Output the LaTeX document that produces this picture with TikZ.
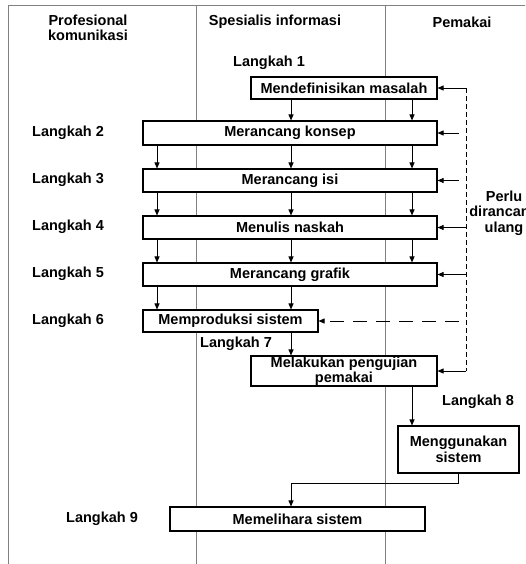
\documentclass[tikz,border=0pt]{standalone}
\usepackage{fontspec}
\setmainfont{Liberation Sans}
\usetikzlibrary{arrows.meta}
\begin{document}
\begin{tikzpicture}[x=1pt,y=-1pt,
  font=\fontsize{14.5}{15.5}\selectfont\bfseries,
  box/.style={draw,fill=white,line width=1.1pt,inner sep=0pt,align=center},
  lane/.style={draw=gray,line width=0.9pt},
  arr/.style={-{Triangle[length=6pt,width=5pt]},line width=0.9pt}]
\clip (0,0) rectangle (525,564);
\fill[white] (0,0) rectangle (525,564);
% lanes
\draw[lane] (8,570)--(8,5)--(530,5);
\draw[lane] (196,5)--(196,570);
\draw[lane] (385,5)--(385,570);
\node[align=center] (h1) at (88,28) {Profesional\\komunikasi};
\node (h2) at (275,22) {Spesialis informasi};
\node (h3) at (462,22) {Pemakai};
% columns of the arrows
\coordinate (cA) at (157,0);
\coordinate (cB) at (291,0);
\coordinate (cC) at (412,0);
\coordinate (fb) at (466,0);
\coordinate (fg) at (459,0);
% steps
\node[box,minimum width=186,minimum height=22] (b1) at (344,88) {Mendefinisikan masalah};
\node[box,minimum width=294,minimum height=24] (b2) at (290,133) {Merancang konsep};
\node[box,minimum width=294,minimum height=23] (b3) at (290,180.5) {Merancang isi};
\node[box,minimum width=294,minimum height=23] (b4) at (290,227.5) {Menulis naskah};
\node[box,minimum width=294,minimum height=23] (b5) at (290,274.5) {Merancang grafik};
\node[box,minimum width=175,minimum height=22] (b6) at (230.5,321) {Memproduksi sistem};
\node[box,minimum width=186,minimum height=30] (b7) at (344,371) {Melakukan pengujian\\pemakai};
\node[box,minimum width=121,minimum height=47] (b8) at (458.5,449.5) {Menggunakan\\sistem};
\node[box,minimum width=255,minimum height=24] (b9) at (297.5,519) {Memelihara sistem};
\node (l1) at (269,63) {Langkah 1};
\node (l2) at (68,133) {Langkah 2};
\node (l3) at (68,180) {Langkah 3};
\node (l4) at (68,227) {Langkah 4};
\node (l5) at (68,274) {Langkah 5};
\node (l6) at (68,321) {Langkah 6};
\node (l7) at (236,344) {Langkah 7};
\node (l8) at (478,402) {Langkah 8};
\node (l9) at (102,519) {Langkah 9};
\node[align=center] (ul) at (504,213) {Perlu\\dirancang\\ulang};
% flow
\foreach \c in {cB,cC} \draw[arr] (\c |- b1.south)--(\c |- b2.north);
\foreach \a/\b in {b2/b3,b3/b4,b4/b5}
  \foreach \c in {cA,cB,cC} \draw[arr] (\c |- \a.south)--(\c |- \b.north);
\foreach \c in {cA,cB} \draw[arr] (\c |- b5.south)--(\c |- b6.north);
\draw[arr] (cB |- b6.south)--(cB |- b7.north);
\draw[arr] (cC |- b7.south)--(cC |- b8.north);
\draw[arr] (b8.south)--++(0,10)-|(cB |- b9.north);
% feedback
\draw[line width=0.8pt,dash pattern=on 5pt off 3pt] (fb |- b1.east)--(fb |- b7.east);
\foreach \b in {b1,b4,b5,b7} \draw[arr] (fb |- \b.east)--(\b.east);
\foreach \b in {b2,b3} \draw[arr] (fg |- \b.east)--(\b.east);
\draw[arr,dash pattern=on 14pt off 9pt] (fg |- b6.east)--(b6.east);
\end{tikzpicture}
\end{document}
